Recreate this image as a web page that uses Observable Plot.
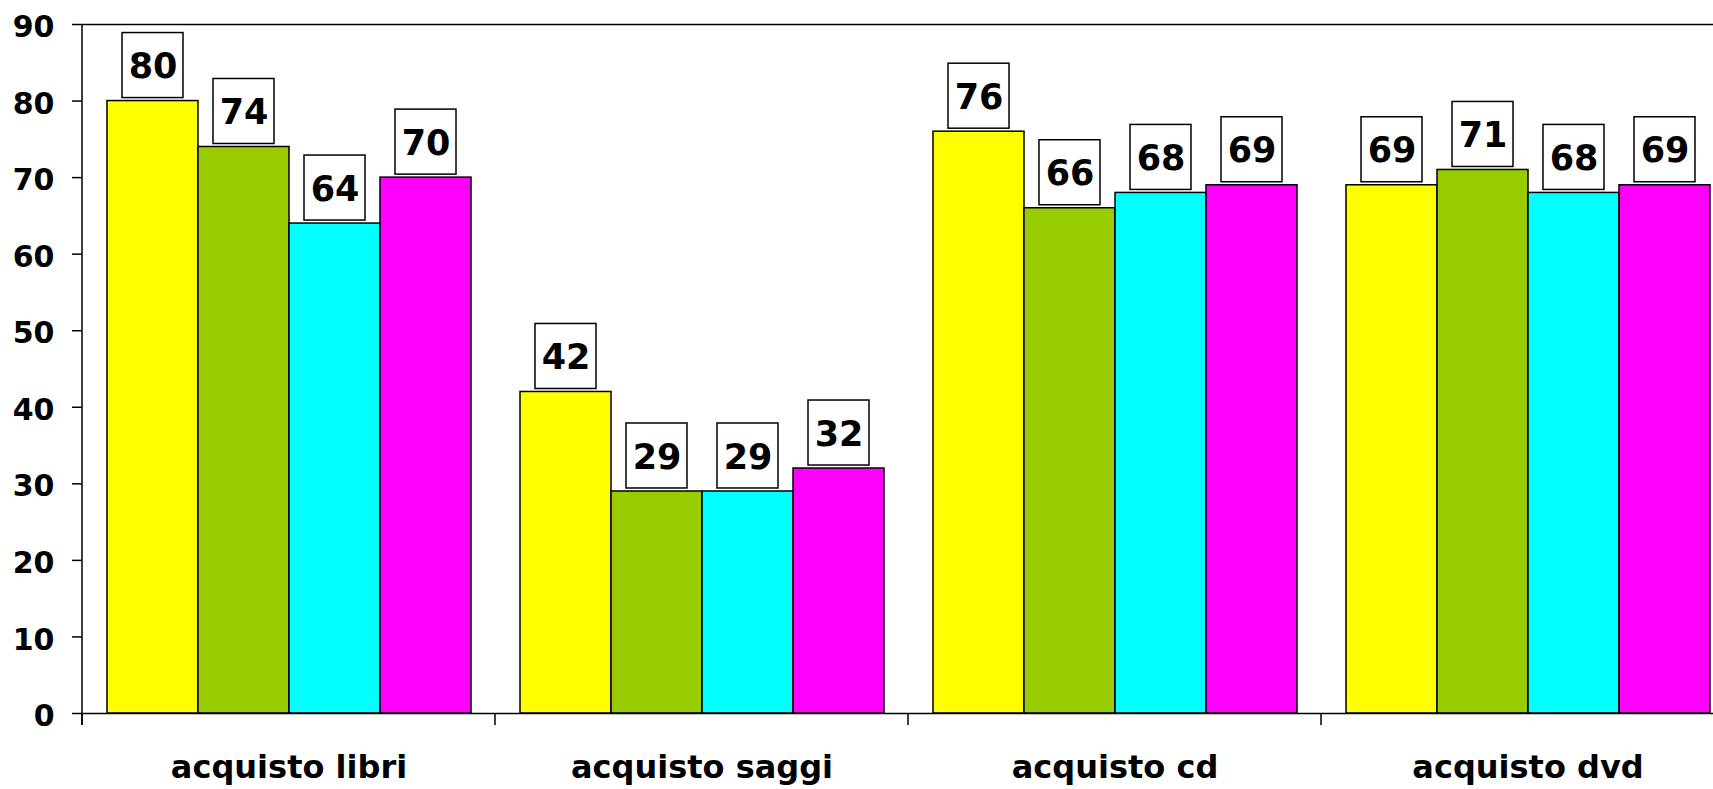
<!DOCTYPE html>
<html><head><meta charset="utf-8">
<script src="https://cdn.jsdelivr.net/npm/d3@7"></script>
<script src="https://cdn.jsdelivr.net/npm/@observablehq/plot@0.6"></script>
<style>
html,body{margin:0;padding:0;background:#fff;overflow:hidden;}
#chart svg{display:block;max-width:none !important;}
</style></head><body><div id="chart"></div>
<script>
const categories = ["acquisto libri", "acquisto saggi", "acquisto cd", "acquisto dvd"];
const seriesNames = ["serie 1", "serie 2", "serie 3", "serie 4"];
const seriesColors = ["#FFFF00", "#99CC00", "#00FFFF", "#FF00FF"];
const valuesLibri = [80, 74, 64, 70];
const valuesSaggi = [42, 29, 29, 32];
const valuesCd = [76, 66, 68, 69];
const valuesDvd = [69, 71, 68, 69];
const yTicks = [0, 10, 20, 30, 40, 50, 60, 70, 80, 90];

const table = [valuesLibri, valuesSaggi, valuesCd, valuesDvd].flatMap((vals, i) =>
  vals.map((v, j) => ({category: categories[i], series: seriesNames[j], value: v})));

function edgesMark(index, scales, values, dims) {
  const g = d3.create("svg:g").attr("stroke", "black").attr("stroke-width", 1.5).attr("fill", "none");
  const top = dims.marginTop, base = dims.height - dims.marginBottom;
  let edges;
  if (typeof scales.fx === "function") {
    edges = categories.map(c => scales.fx(c));
  } else {
    const w = (dims.width - dims.marginLeft - dims.marginRight) / categories.length;
    edges = categories.map((c, i) => dims.marginLeft + i * w);
  }
  g.append("line").attr("x1", edges[0]).attr("x2", edges[0]).attr("y1", top).attr("y2", base + 12);
  edges.forEach(e => g.append("line").attr("x1", e).attr("x2", e).attr("y1", base).attr("y2", base + 12));
  return g.node();
}

const chart = Plot.plot({
  width: 1740, height: 789,
  marginLeft: 82, marginRight: 6, marginTop: 24, marginBottom: 76,
  style: {fontFamily: "'DejaVu Sans', Verdana, sans-serif", fontWeight: "bold", background: "white", color: "black", overflow: "visible"},
  fx: {domain: categories, padding: 0, label: null, axis: null},
  x: {domain: seriesNames, paddingInner: 0, paddingOuter: 0.245, axis: null},
  y: {domain: [0, 90], label: null, axis: null},
  color: {domain: seriesNames, range: seriesColors},
  marks: [
    Plot.barY(table, {fx: "category", x: "series", y: "value", fill: "series", stroke: "black", strokeWidth: 1.5}),
    Plot.barY(table, {fx: "category", x: "series", y1: "value", y2: "value", fill: "white", stroke: "black", strokeWidth: 1.5,
      insetLeft: 15, insetRight: 15, insetTop: -68, insetBottom: 3}),
    Plot.text(table, {fx: "category", x: "series", y: "value", text: d => String(d.value), dy: -34, fontSize: 35, fontWeight: "bold", fill: "black"}),
    Plot.ruleY([0, 90], {stroke: "black", strokeWidth: 1.5}),
    Plot.axisY({ticks: yTicks, tickSize: 10, text: null, label: null, strokeWidth: 1.5}),
    Plot.axisY({ticks: yTicks, tickSize: 0, tickPadding: 28, fontSize: 30, dy: 3, label: null}),
    Plot.axisFx({anchor: "bottom", tickSize: 0, tickPadding: 42, fontSize: 32, label: null}),
    Plot.frame({facet: "super", stroke: "none", render: edgesMark})
  ]
});
document.getElementById("chart").append(chart);
</script></body></html>
